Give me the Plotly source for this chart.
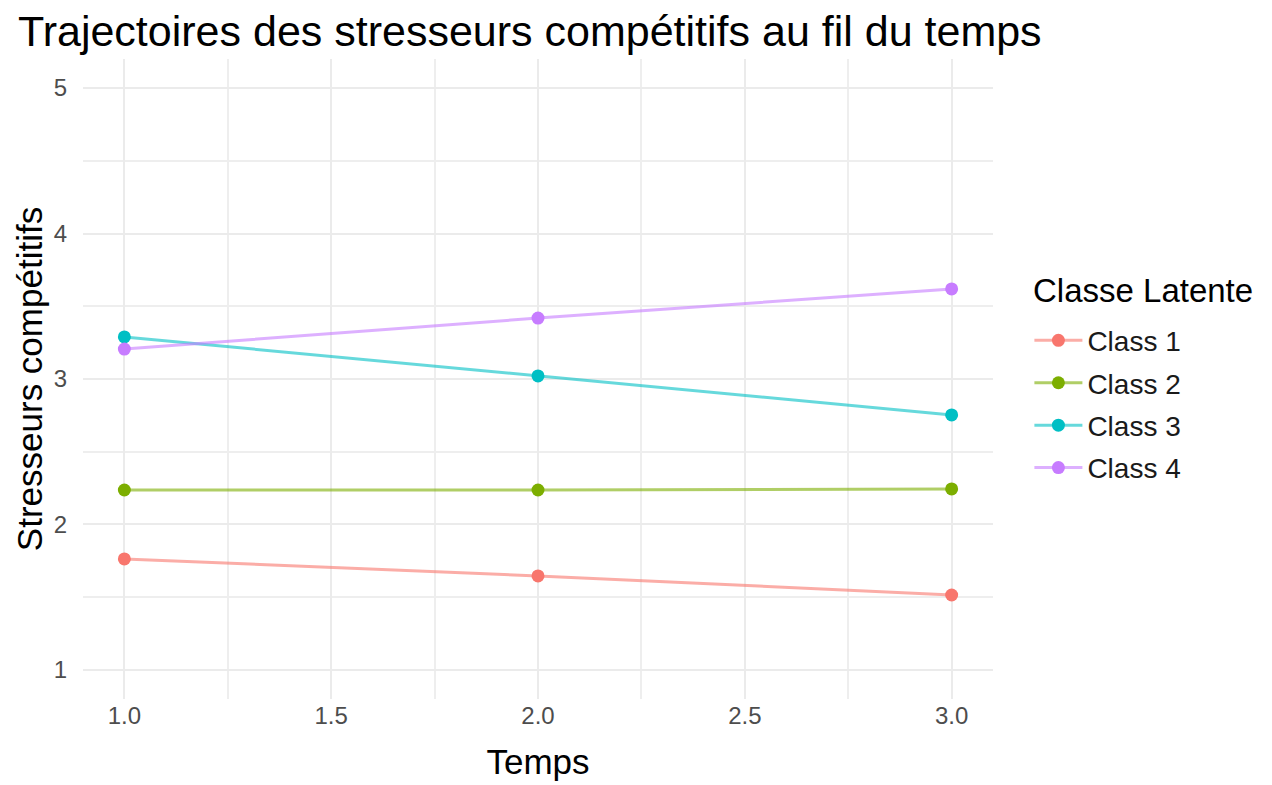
import plotly.graph_objects as go

# data
temps = [1, 2, 3]
classes = ["Class 1", "Class 2", "Class 3", "Class 4"]
class1 = [1.763, 1.646, 1.515]
class2 = [2.237, 2.237, 2.244]
class3 = [3.289, 3.021, 2.753]
class4 = [3.206, 3.419, 3.619]
series = [class1, class2, class3, class4]

colors = ["#F8766D", "#7CAE00", "#00BFC4", "#C77CFF"]
line_colors = ["rgba(248,118,109,0.6)", "rgba(124,174,0,0.6)",
               "rgba(0,191,196,0.6)", "rgba(199,124,255,0.6)"]

font_fam = "Liberation Sans, Arial, sans-serif"

# page body adds an 8px margin, so everything is placed 8px up/left
fig = go.Figure()
for i, name in enumerate(classes):
    fig.add_trace(go.Scatter(
        x=temps, y=series[i], name=name, mode="lines+markers",
        line=dict(color=line_colors[i], width=3),
        marker=dict(color=colors[i], size=13),
        legendgroup=name,
    ))

fig.update_layout(
    width=1272, height=785,
    paper_bgcolor="white", plot_bgcolor="white",
    margin=dict(l=75, r=287, t=51, b=94),
    font=dict(family=font_fam, color="black"),
    title=dict(text="Trajectoires des stresseurs compétitifs au fil du temps",
               x=10 / 1272, xref="container", xanchor="left",
               y=1 - 23 / 785, yref="container", yanchor="middle",
               pad=dict(l=0, r=0, t=0, b=0),
               font=dict(size=43, color="black")),
    legend=dict(font=dict(size=28, color="#1a1a1a"),
                x=1.04, xanchor="left", y=0.599, yanchor="top",
                itemwidth=48, tracegroupgap=3, bgcolor="rgba(0,0,0,0)"),
    annotations=[dict(text="Classe Latente", xref="paper", yref="paper",
                      x=(1023 - 75) / 910, xanchor="left",
                      y=(691 - 282) / 640, yanchor="middle",
                      showarrow=False, font=dict(size=33, color="black"))],
)

fig.update_xaxes(
    range=[0.9, 3.1], dtick=0.5, tick0=1, tickformat=".1f", automargin=False,
    showgrid=True, gridcolor="#EBEBEB", gridwidth=2, zeroline=False,
    showline=False, ticks="", ticklabelstandoff=0,
    tickfont=dict(size=24, color="#4D4D4D"),
    minor=dict(dtick=0.25, tick0=1, showgrid=True, gridcolor="#EEEEEE", gridwidth=1.5),
    title=dict(text="Temps", font=dict(size=35), standoff=21),
)
fig.update_yaxes(
    range=[0.8, 5.2], dtick=1, tick0=1, automargin=False,
    showgrid=True, gridcolor="#EBEBEB", gridwidth=2, zeroline=False,
    showline=False, ticks="outside", ticklen=10, tickcolor="rgba(0,0,0,0)",
    tickfont=dict(size=24, color="#4D4D4D"),
    minor=dict(dtick=0.5, tick0=1, showgrid=True, gridcolor="#EEEEEE", gridwidth=1.5),
    title=dict(text="Stresseurs compétitifs", font=dict(size=35), standoff=0),
)

fig.write_html("out.html")
